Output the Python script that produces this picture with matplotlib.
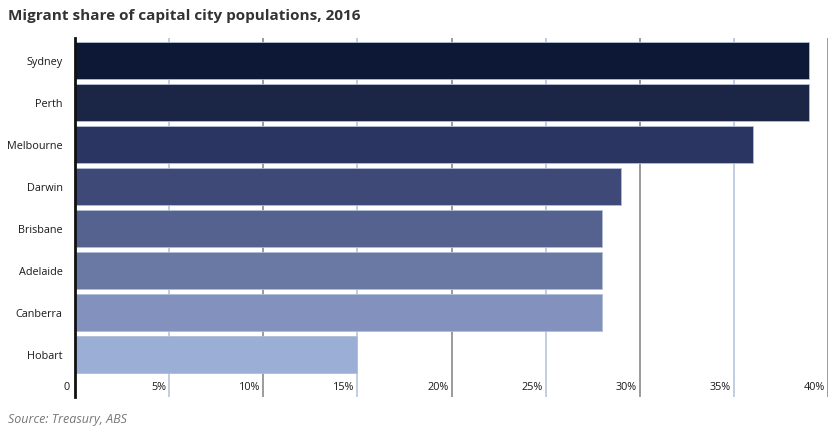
import matplotlib.pyplot as plt
from matplotlib import transforms

CITIES = ['Sydney', 'Perth', 'Melbourne', 'Darwin', 'Brisbane', 'Adelaide', 'Canberra', 'Hobart']
SHARE = [39, 39, 36, 29, 28, 28, 28, 15]  # % of population born overseas
COLOURS = ['#0d1736', '#1b2646', '#2a3561', '#3e4977', '#55618e', '#6a79a3', '#8291bd', '#9aaed6']
TICKS = [5, 10, 15, 20, 25, 30, 35, 40]
TICK_LABELS = ['5%', '10%', '15%', '20%', '25%', '30%', '35%', '40%']

plt.rcParams['font.family'] = ['Open Sans', 'DejaVu Sans']

fig = plt.figure(figsize=(8.32, 4.43), dpi=100)
ax = fig.add_axes([75 / 832, 1 - 397 / 443, 753 / 832, 359 / 443])

# gridlines alternate between grey and pale blue
for t in TICKS:
    col = '#8a8a8a' if t % 10 == 0 else '#b5c6da'
    ax.axvline(t, color=col, lw=1.2, zorder=0)

pos = list(range(len(CITIES)))
ax.barh(pos, SHARE, height=0.88, color=COLOURS, edgecolor='#b0bfd6', linewidth=0.6, zorder=2)

ax.set_xlim(0, 40)
ax.set_ylim(len(CITIES) - 1 + 1.01, -0.54)

ax.set_yticks(pos)
ax.set_yticklabels(CITIES, fontsize=7.8, color='#1a1a1a')
ax.tick_params(axis='y', length=0, pad=9)
ax.set_xticks([])

for s in ['top', 'right', 'bottom']:
    ax.spines[s].set_visible(False)
ax.spines['left'].set_linewidth(2)
ax.spines['left'].set_color('#111111')

# x labels sit inside the plot, just left of each gridline
lab_tr = transforms.offset_copy(ax.get_xaxis_transform(), fig=fig, x=-3, y=0, units='dots')
for t, lab in zip(TICKS, TICK_LABELS):
    ax.text(t, 9 / 359, lab, transform=lab_tr, ha='right', va='center', fontsize=7.8, color='#1a1a1a')
zero_tr = transforms.offset_copy(ax.get_xaxis_transform(), fig=fig, x=-5, y=0, units='dots')
ax.text(0, 9 / 359, '0', transform=zero_tr, ha='right', va='center', fontsize=7.8, color='#1a1a1a')

fig.text(8 / 832, 1 - 16 / 443, 'Migrant share of capital city populations, 2016',
         fontsize=11, fontweight='bold', color='#333333', va='center', ha='left')
fig.text(8 / 832, 1 - 420 / 443, 'Source: Treasury, ABS', fontsize=9, style='italic',
         color='#777777', va='center', ha='left')

fig.savefig('out.png', dpi=100)
